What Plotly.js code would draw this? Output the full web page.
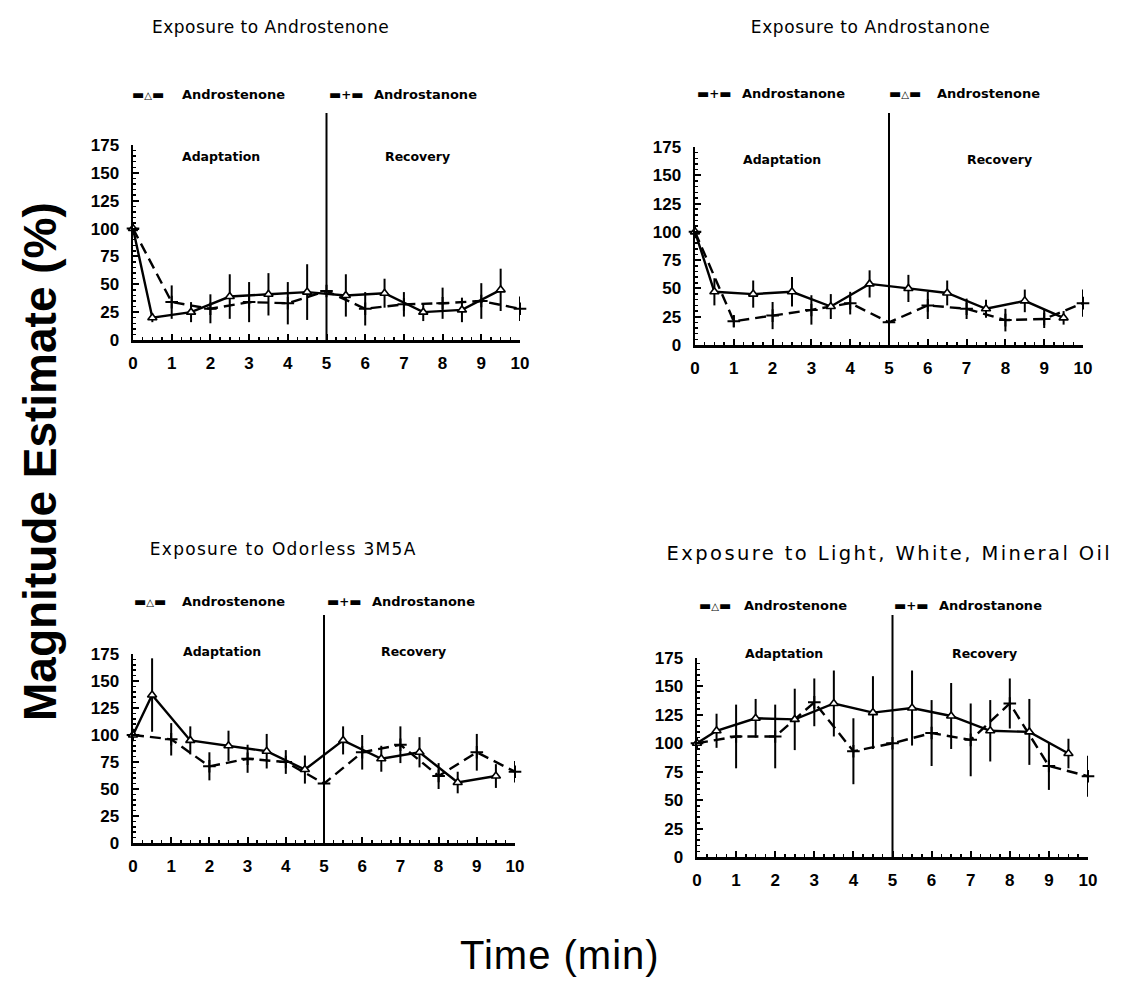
<!DOCTYPE html>
<html>
<head>
<meta charset="utf-8">
<script src="https://cdn.plot.ly/plotly-3.0.1.min.js"></script>
<style>
  html, body { margin: 0; padding: 0; background: #fff; }
  #chart { width: 1122px; height: 990px; }
</style>
</head>
<body>
<div id="chart"></div>
<script>
// ---------------- DATA ----------------
const timeHalf = [0, 0.5, 1.5, 2.5, 3.5, 4.5, 5.5, 6.5, 7.5, 8.5, 9.5];
const timeInt  = [0, 1, 2, 3, 4, 5, 6, 7, 8, 9, 10];
const xTickVals = [0, 1, 2, 3, 4, 5, 6, 7, 8, 9, 10];
const yTickVals = [0, 25, 50, 75, 100, 125, 150, 175];
const phaseBoundary = 5;
const phaseLabels = ["Adaptation", "Recovery"];
const seriesNames = ["Androstenone", "Androstanone"];
const panelTitles = [
  "Exposure to Androstenone",
  "Exposure to Androstanone",
  "Exposure to Odorless 3M5A",
  "Exposure to Light, White, Mineral Oil"
];

// Androstenone (triangles, solid), measured at timeHalf
const p1Stenone    = [100, 20, 25, 39, 41, 43, 40, 42, 25, 27, 45];
const p1StenoneErr = [0, 4, 9, 20, 19, 25, 19, 13, 8, 11, 19];
// Androstanone (plus, dashed), measured at timeInt
const p1Stanone    = [100, 34, 28, 34, 33, 44, 28, 32, 33, 35, 28];
const p1StanoneErr = [0, 15, 13, 18, 19, 0, 15, 11, 14, 16, 11];

const p2Stenone    = [100, 47, 45, 47, 34, 54, 50, 46, 32, 39, 24];
const p2StenoneErr = [0, 12, 12, 13, 11, 12, 12, 11, 8, 10, 6];
const p2Stanone    = [100, 21, 26, 31, 37, 20, 35, 32, 22, 23, 37];
const p2StanoneErr = [0, 5, 12, 13, 10, 0, 12, 9, 10, 8, 12];

const p3Stenone    = [100, 137, 95, 90, 85, 68, 95, 78, 84, 56, 62];
const p3StenoneErr = [0, 34, 13, 14, 16, 13, 13, 12, 14, 10, 11];
const p3Stanone    = [100, 96, 71, 78, 75, 55, 84, 91, 62, 84, 66];
const p3StanoneErr = [0, 15, 13, 13, 11, 0, 16, 17, 12, 17, 10];

const p4Stenone    = [100, 111, 122, 121, 135, 127, 131, 124, 111, 110, 91];
const p4StenoneErr = [0, 15, 17, 27, 29, 32, 33, 29, 27, 29, 13];
const p4Stanone    = [100, 106, 106, 136, 93, 100, 109, 103, 135, 80, 71];
const p4StanoneErr = [0, 28, 28, 21, 29, 0, 29, 32, 22, 21, 18];

// ---------------- LAYOUT HELPERS ----------------
const W = 1122, H = 990;
const px = v => v / W;
const py = v => 1 - v / H;

const panels = [
  { sten: p1Stenone, stenE: p1StenoneErr, stan: p1Stanone, stanE: p1StanoneErr,
    box: [133, 520, 145, 340], lineTop: 113,
    title: [270, 27], titleSize: 17, titleSpacing: 0.5, legY: 95, legOrder: [0, 1], legX: [[130, 180], [327, 372]],
    phaseY: 156, phaseX: [221, 417] },
  { sten: p2Stenone, stenE: p2StenoneErr, stan: p2Stanone, stanE: p2StanoneErr,
    box: [695, 1083, 147, 345], lineTop: 113,
    title: [870, 27], titleSize: 17, titleSpacing: 0.6, legY: 93, legOrder: [1, 0], legX: [[695, 740], [887, 935]],
    phaseY: 159, phaseX: [782, 999] },
  { sten: p3Stenone, stenE: p3StenoneErr, stan: p3Stanone, stanE: p3StanoneErr,
    box: [133, 515, 654, 843], lineTop: 615,
    title: [283, 549], titleSize: 17, titleSpacing: 1.3, legY: 601, legOrder: [0, 1], legX: [[132, 180], [325, 370]],
    phaseY: 651, phaseX: [222, 413] },
  { sten: p4Stenone, stenE: p4StenoneErr, stan: p4Stanone, stanE: p4StanoneErr,
    box: [697, 1088, 658, 857], lineTop: 615,
    title: [889, 553], titleSize: 19.5, titleSpacing: 2.4, legY: 605, legOrder: [0, 1], legX: [[697, 742], [892, 937]],
    phaseY: 653, phaseX: [784, 984] }
];

const tickFont = { family: "Liberation Sans, Arial, sans-serif", size: 17, color: "#000", weight: "bold" };
const data = [];
const layout = {
  width: W, height: H,
  margin: { l: 0, r: 0, t: 0, b: 0 },
  paper_bgcolor: "#fff", plot_bgcolor: "#fff",
  showlegend: false,
  shapes: [], annotations: []
};
const spacingByAnnotation = {};

panels.forEach((p, i) => {
  const n = i === 0 ? "" : String(i + 1);
  const xa = "x" + n, ya = "y" + n;
  const [x0, x1, yTop, yBot] = p.box;

  layout["xaxis" + n] = {
    domain: [px(x0), px(x1)], range: [0, 10], anchor: ya,
    showline: true, linecolor: "#000", linewidth: 2.5,
    ticks: "inside", ticklen: 6, tickwidth: 2, tickcolor: "#000",
    tickvals: xTickVals, ticktext: xTickVals.map(String),
    minor: { ticks: "inside", dtick: 0.25, ticklen: 3, tickwidth: 1.5, tickcolor: "#000" },
    tickfont: tickFont, ticklabelstandoff: 6,
    showgrid: false, zeroline: false, fixedrange: true
  };
  layout["yaxis" + n] = {
    domain: [py(yBot), py(yTop)], range: [0, 175], anchor: xa,
    showline: true, linecolor: "#000", linewidth: 2.5,
    ticks: "inside", ticklen: 6, tickwidth: 2, tickcolor: "#000",
    tickvals: yTickVals, ticktext: yTickVals.map(String),
    minor: { ticks: "inside", dtick: 5, ticklen: 3, tickwidth: 1.5, tickcolor: "#000" },
    tickfont: tickFont, ticklabelstandoff: 8,
    showgrid: false, zeroline: false, fixedrange: true
  };

  // Androstanone: dashed with plus markers
  data.push({
    type: "scatter", mode: "lines+markers", xaxis: xa, yaxis: ya,
    x: timeInt, y: p.stan, cliponaxis: false, name: seriesNames[1],
    line: { color: "#000", width: 2.4, dash: "11px,6px" },
    marker: { symbol: "cross-thin", size: 9, line: { width: 2, color: "#000" }, color: "#000" },
    error_y: { type: "data", array: p.stanE, visible: true, thickness: 2, width: 0, color: "#000" }
  });
  // Androstenone: solid with open triangles
  data.push({
    type: "scatter", mode: "lines+markers", xaxis: xa, yaxis: ya,
    x: timeHalf, y: p.sten, cliponaxis: false, name: seriesNames[0],
    line: { color: "#000", width: 2.4 },
    marker: { symbol: "triangle-up", size: 8, color: "#fff", line: { width: 1.6, color: "#000" } },
    error_y: { type: "data", array: p.stenE, visible: true, thickness: 2, width: 0, color: "#000" }
  });

  // phase divider
  layout.shapes.push({
    type: "line", xref: xa, yref: "paper",
    x0: phaseBoundary, x1: phaseBoundary, y0: py(yBot), y1: py(p.lineTop),
    line: { color: "#000", width: 2 }
  });

  // panel title
  spacingByAnnotation[layout.annotations.length] = p.titleSpacing;
  layout.annotations.push({
    xref: "paper", yref: "paper", x: px(p.title[0]), y: py(p.title[1]),
    xanchor: "center", yanchor: "middle", showarrow: false,
    text: panelTitles[i],
    font: { family: "DejaVu Sans, sans-serif", size: p.titleSize, color: "#000" }
  });

  // phase labels
  phaseLabels.forEach((lab, k) => {
    layout.annotations.push({
      xref: "paper", yref: "paper", x: px(p.phaseX[k]), y: py(p.phaseY),
      xanchor: "center", yanchor: "middle", showarrow: false, text: lab,
      font: { family: "DejaVu Sans, sans-serif", size: 12.5, color: "#000", weight: "bold" }
    });
  });

  // legend
  p.legOrder.forEach((s, k) => {
    const sym = s === 0
      ? "▬<span style=\"font-size:10px\">△</span>▬"
      : "▬<span style=\"font-size:12px\">+</span>▬";
    layout.annotations.push({
      xref: "paper", yref: "paper", x: px(p.legX[k][0]), y: py(p.legY),
      xanchor: "left", yanchor: "middle", showarrow: false, text: sym,
      font: { family: "DejaVu Sans, sans-serif", size: 13, color: "#000", weight: "bold" }
    });
    layout.annotations.push({
      xref: "paper", yref: "paper", x: px(p.legX[k][1]), y: py(p.legY),
      xanchor: "left", yanchor: "middle", showarrow: false, text: seriesNames[s],
      font: { family: "DejaVu Sans, sans-serif", size: 13, color: "#000", weight: "bold" }
    });
  });
});

// overall axis titles
layout.annotations.push({
  xref: "paper", yref: "paper", x: px(40), y: py(462),
  xanchor: "center", yanchor: "middle", showarrow: false, textangle: -90,
  text: "Magnitude Estimate (%)",
  font: { family: "Liberation Sans, Arial, sans-serif", size: 46, color: "#000", weight: "bold" }
});
spacingByAnnotation[layout.annotations.length] = 1;
layout.annotations.push({
  xref: "paper", yref: "paper", x: px(560), y: py(955),
  xanchor: "center", yanchor: "middle", showarrow: false,
  text: "Time (min)",
  font: { family: "Liberation Sans, Arial, sans-serif", size: 40, color: "#000" }
});

Plotly.newPlot("chart", data, layout, { displayModeBar: false, staticPlot: true }).then(gd => {
  Object.keys(spacingByAnnotation).forEach(k => {
    gd.querySelectorAll('.annotation[data-index="' + k + '"] text').forEach(t => {
      t.style.letterSpacing = spacingByAnnotation[k] + "px";
    });
  });
});
</script>
</body>
</html>
